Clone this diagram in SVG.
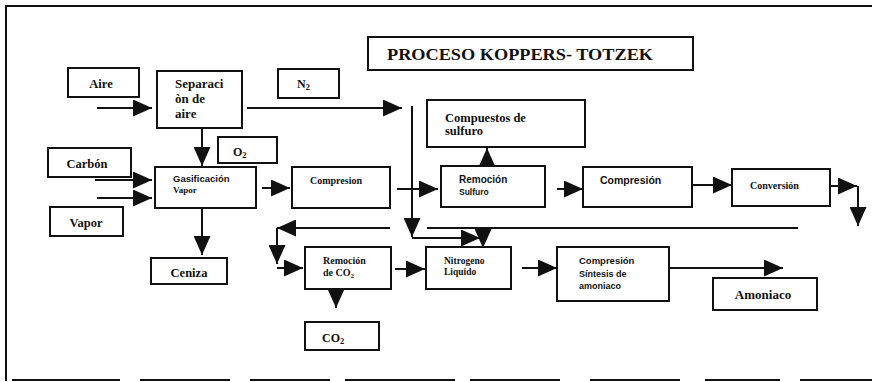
<svg xmlns="http://www.w3.org/2000/svg" width="876" height="382" viewBox="0 0 876 382">
  <style>
    .box { fill: #fff; stroke: #111; stroke-width: 2; }
    .ln { fill: none; stroke: #111; stroke-width: 2; }
    .arr { fill: none; stroke: #111; stroke-width: 2; marker-end: url(#head); }
    .serif { font-family: "Liberation Serif", "Times New Roman", serif; font-weight: bold; fill: #111; }
    .sans { font-family: "Liberation Sans", Arial, sans-serif; font-weight: bold; fill: #111; }
    .sub { font-size: 70%; }
  </style>
  <defs>
    <marker id="head" markerUnits="userSpaceOnUse" markerWidth="19" markerHeight="17" refX="19" refY="8.5" orient="auto">
      <path d="M0,0 L19,8.5 L0,17 Z" fill="#111"/>
    </marker>
  </defs>

  <rect width="876" height="382" fill="#fff"/>

  <!-- page frame -->
  <g id="frame" class="ln">
    <path d="M5,6 H872"/>
    <path d="M6,5 V381"/>
    <path d="M12,380 H120 M140,380 H230 M250,380 H330 M345,380 H455 M470,380 H560 M590,380 H680 M705,380 H780 M800,380 H872"/>
  </g>

  <!-- title -->
  <g id="title">
    <rect class="box" x="368" y="37" width="325" height="33"/>
    <text class="serif" x="520" y="60" font-size="16" text-anchor="middle" textLength="266" lengthAdjust="spacingAndGlyphs">PROCESO KOPPERS- TOTZEK</text>
  </g>

  <!-- connectors -->
  <g id="connectors">
    <path class="arr" d="M97,108 H152"/>
    <path class="ln" d="M247,108 H383"/>
    <path class="arr" d="M383,108 H402"/>
    <path class="arr" d="M202,128 V166"/>
    <path class="arr" d="M95,180 H152"/>
    <path class="arr" d="M97,198 H152"/>
    <path class="arr" d="M262,188 H290"/>
    <path class="arr" d="M202,208 V255"/>
    <path class="ln" d="M412,106 V222"/>
    <path class="arr" d="M412,210 V237"/>
    <path class="arr" d="M397,189 H438"/>
    <path class="arr" d="M487,166 V148"/>
    <path class="arr" d="M557,189 H583"/>
    <path class="arr" d="M693,185 H732"/>
    <path class="arr" d="M830,186 H857"/>
    <path class="arr" d="M858,186 V226"/>
    <path class="ln" d="M798,228 H427"/>
    <path class="arr" d="M390,228 H277"/>
    <path class="arr" d="M277,228 V264"/>
    <path class="arr" d="M277,268 H303"/>
    <path class="arr" d="M412,238 H480"/>
    <path class="arr" d="M483,231 V248"/>
    <path class="arr" d="M336,289 V308"/>
    <path class="arr" d="M395,269 H425"/>
    <path class="arr" d="M522,268 H557"/>
    <path class="arr" d="M669,268 H783"/>
  </g>

  <!-- nodes -->
  <g id="aire">
    <rect class="box" x="68" y="68" width="71" height="29"/>
    <text class="serif" x="101" y="88" font-size="12.5" text-anchor="middle">Aire</text>
  </g>
  <g id="separacion">
    <rect class="box" x="157" y="71" width="85" height="57"/>
    <text class="serif" x="175" y="88" font-size="13">Separaci</text>
    <text class="serif" x="175" y="103" font-size="13">òn de</text>
    <text class="serif" x="175" y="118" font-size="13">aire</text>
  </g>
  <g id="n2">
    <rect class="box" x="278" y="69" width="61" height="29"/>
    <text class="serif" x="297" y="88" font-size="12">N<tspan class="sub" dy="2">2</tspan></text>
  </g>
  <g id="o2">
    <rect class="box" x="218" y="137" width="59" height="26"/>
    <text class="serif" x="233" y="156" font-size="12">O<tspan class="sub" dy="2">2</tspan></text>
  </g>
  <g id="carbon">
    <rect class="box" x="48" y="148" width="83" height="29"/>
    <text class="serif" x="87" y="168" font-size="12.5" text-anchor="middle">Carbón</text>
  </g>
  <g id="vapor">
    <rect class="box" x="50" y="207" width="73" height="29"/>
    <text class="serif" x="86" y="227" font-size="12.5" text-anchor="middle">Vapor</text>
  </g>
  <g id="gasificacion">
    <rect class="box" x="155" y="167" width="101" height="41"/>
    <text class="sans" x="173" y="182" font-size="9.5">Gasificación</text>
    <text class="serif" x="173" y="193" font-size="9">Vapor</text>
  </g>
  <g id="ceniza">
    <rect class="box" x="151" y="258" width="76" height="26"/>
    <text class="serif" x="189" y="277" font-size="12.5" text-anchor="middle">Ceniza</text>
  </g>
  <g id="compresion1">
    <rect class="box" x="292" y="167" width="98" height="41"/>
    <text class="serif" x="310" y="184" font-size="10">Compresion</text>
  </g>
  <g id="compuestos">
    <rect class="box" x="427" y="100" width="158" height="47"/>
    <text class="serif" x="445" y="122" font-size="12.5">Compuestos de</text>
    <text class="serif" x="445" y="135" font-size="12.5">sulfuro</text>
  </g>
  <g id="remocion-sulfuro">
    <rect class="box" x="441" y="166" width="104" height="41"/>
    <text class="sans" x="459" y="183" font-size="10">Remoción</text>
    <text class="sans" x="459" y="195" font-size="8.5" font-weight="normal">Sulfuro</text>
  </g>
  <g id="compresion2">
    <rect class="box" x="583" y="167" width="109" height="40"/>
    <text class="sans" x="600" y="184" font-size="10.5">Compresión</text>
  </g>
  <g id="conversion">
    <rect class="box" x="732" y="169" width="98" height="37"/>
    <text class="serif" x="750" y="189" font-size="10">Conversión</text>
  </g>
  <g id="remocion-co2">
    <rect class="box" x="305" y="247" width="86" height="42"/>
    <text class="serif" x="323" y="264" font-size="10">Remoción</text>
    <text class="serif" x="323" y="276" font-size="10">de CO<tspan class="sub" dy="1.5">2</tspan></text>
  </g>
  <g id="co2">
    <rect class="box" x="305" y="322" width="74" height="28"/>
    <text class="serif" x="322" y="342" font-size="12">CO<tspan class="sub" dy="2">2</tspan></text>
  </g>
  <g id="nitrogeno">
    <rect class="box" x="426" y="247" width="85" height="42"/>
    <text class="serif" x="444" y="264" font-size="9.5">Nitrogeno</text>
    <text class="serif" x="444" y="275" font-size="9.5">Liquido</text>
  </g>
  <g id="compresion-sintesis">
    <rect class="box" x="557" y="247" width="112" height="54"/>
    <text class="sans" x="579" y="264" font-size="9.5">Compresión</text>
    <text class="sans" x="579" y="277" font-size="9" font-weight="normal">Síntesis de</text>
    <text class="sans" x="579" y="289" font-size="9" font-weight="normal">amoniaco</text>
  </g>
  <g id="amoniaco">
    <rect class="box" x="713" y="278" width="104" height="32"/>
    <text class="serif" x="763" y="299" font-size="13" text-anchor="middle">Amoniaco</text>
  </g>
</svg>
